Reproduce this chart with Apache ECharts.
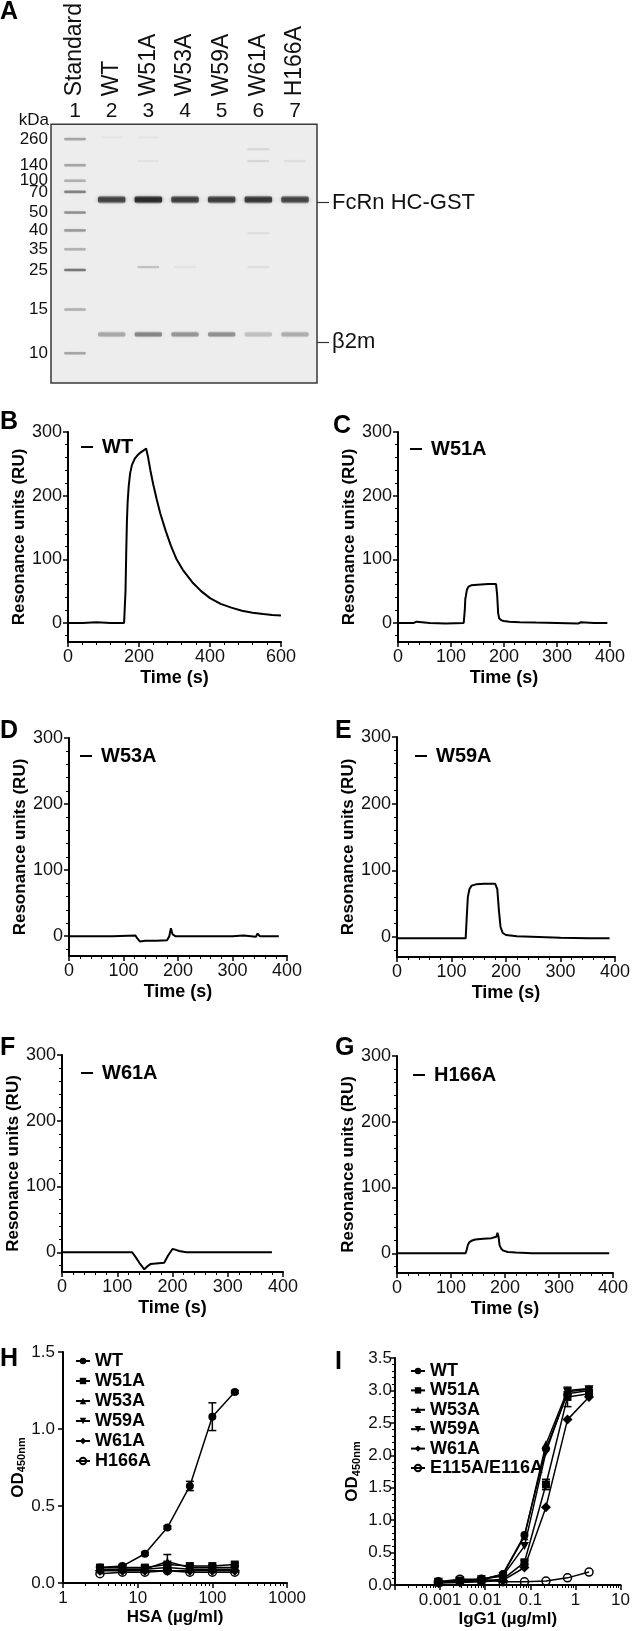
<!DOCTYPE html>
<html><head><meta charset="utf-8">
<script src="https://cdn.jsdelivr.net/npm/echarts@6/dist/echarts.min.js"></script>
<style>html,body{margin:0;padding:0;background:#fff}#c{width:633px;height:1631px}</style>
</head><body><div id="c"></div>
<script>
// ---------- Panel A: gel ----------
const laneNumbers = ['1','2','3','4','5','6','7'];
const laneNames = ['Standard','WT','W51A','W53A','W59A','W61A','H166A'];
const markerKDa = [260,140,100,70,50,40,35,25,15,10];
const markerRf = [0.057,0.158,0.218,0.261,0.341,0.410,0.483,0.563,0.716,0.885];
const markerIntensity = [0.32,0.32,0.28,0.48,0.42,0.38,0.28,0.52,0.28,0.32];
const sampleLanes = [2,3,4,5,6,7];
const heavyRf = 0.291;
const heavyIntensity = [0.75,0.9,0.78,0.78,0.82,0.74];
const b2mRf = 0.812;
const b2mIntensity = [0.3,0.45,0.38,0.4,0.2,0.28];
const faintLane = [2,3,3,3,4,6,6,6,6,7];
const faintRf = [0.05,0.05,0.142,0.552,0.552,0.096,0.142,0.421,0.552,0.142];
const faintIntensity = [0.04,0.04,0.05,0.2,0.05,0.1,0.1,0.08,0.07,0.07];
const productNames = ['FcRn HC-GST','β2m'];
const productRf = [0.303,0.843];

// ---------- Panels B-G: SPR sensorgrams ----------
const sprNames = ['WT','W51A','W53A','W59A','W61A','H166A'];
const timeWT = [0,40,80,120,158,160,162,164,166,168,171,175,180,188,195,205,213,220,225,232,240,250,260,275,290,305,325,350,375,400,430,460,490,520,550,575,600];
const ruWT   = [0,0,1,0,0,0,50,110,160,190,215,235,248,258,263,268,271,274,262,240,218,194,172,145,121,101,82,64,50,39,30,24,19,16,14,12.5,11.5];
const timeW51A = [0,30,35,60,90,124,126,127,128,130,133,138,150,170,185,187,189,191,195,200,210,230,260,300,340,345,370,395];
const ruW51A   = [0,0,2,0,-1,0,20,38,42,52,57,59,60,61,61,45,15,7,4,3,2,1,0.5,0,-1,1,0,0];
const timeW53A = [0,35,38,42,80,122,125,130,140,160,180,184,187,190,195,220,260,300,320,343,346,350,385];
const ruW53A   = [0,0,3,0,0,1,-3,-8,-7,-7,-6,0,12,3,0,0,0,0,1,-1,4,0,0];
const timeW59A = [0,60,120,126,128,130,133,137,145,160,180,184,187,190,194,200,220,260,300,350,390];
const ruW59A   = [-2,-2,-2,-2,30,60,72,77,79,80,80,72,40,15,6,3,1,0,-1,-2,-2];
const timeW61A = [0,50,100,122,124,127,133,140,149,155,160,170,185,192,200,205,212,225,260,300,340,342,345,380];
const ruW61A   = [0,0,0,0,2,0,-7,-16,-26,-21,-18,-17,-16,-5,5,4,2,0,0,0,0,2,0,0];
const timeH166A = [0,60,127,129,131,134,138,145,160,175,184,186,188,190,193,197,205,220,250,300,350,393];
const ruH166A   = [0,0,0,5,12,17,19,21,22,23,25,31,25,12,7,4,2,1,0,0,0,0];
const sprTimes = [timeWT,timeW51A,timeW53A,timeW59A,timeW61A,timeH166A];
const sprRU = [ruWT,ruW51A,ruW53A,ruW59A,ruW61A,ruH166A];
const sprTimeMax = [600,400,400,400,400,400];
const sprTimeStep = [200,100,100,100,100,100];
const ruMajor = [0,100,200,300];
const ruMinor = [-20,20,40,60,80,120,140,160,180,220,240,260,280];

// ---------- Panel H: HSA ELISA ----------
const hsaConc = [3.125,6.25,12.5,25,50,100,200];
const hNames = ['WT','W51A','W53A','W59A','W61A','H166A'];
const hWT    = [0.10,0.11,0.19,0.36,0.63,1.08,1.24];
const hW51A  = [0.10,0.10,0.10,0.12,0.11,0.11,0.12];
const hW53A  = [0.09,0.09,0.09,0.14,0.10,0.10,0.10];
const hW59A  = [0.08,0.09,0.09,0.10,0.09,0.09,0.09];
const hW61A  = [0.08,0.08,0.08,0.08,0.08,0.08,0.08];
const hH166A = [0.06,0.07,0.07,0.08,0.07,0.07,0.07];
const hErrWT   = [0,0,0.01,0.01,0.03,0.09,0.01];
const hErrW51A = [0,0,0,0.01,0.01,0.01,0.01];
const hErrW53A = [0,0,0,0.045,0,0,0];
const hValues = [hWT,hW51A,hW53A,hW59A,hW61A,hH166A];
const hErrors = [hErrWT,hErrW51A,hErrW53A,[],[],[]];

// ---------- Panel I: IgG1 ELISA ----------
const igConc = [0.000914,0.00274,0.00823,0.0247,0.0741,0.222,0.667,2];
const iNames = ['WT','W51A','W53A','W59A','W61A','E115A/E116A'];
const iWT    = [0.05,0.06,0.08,0.17,0.77,2.10,2.95,3.00];
const iW51A  = [0.04,0.05,0.06,0.09,0.35,1.55,2.90,2.95];
const iW53A  = [0.04,0.06,0.09,0.16,0.75,2.17,3.00,3.03];
const iW59A  = [0.05,0.07,0.09,0.14,0.60,2.05,2.98,3.02];
const iW61A  = [0.03,0.04,0.05,0.07,0.27,1.20,2.55,2.90];
const iE115A = [0.05,0.09,0.09,0.05,0.05,0.06,0.11,0.20];
const iErrW51A = [0,0,0,0,0.03,0.08,0.15,0.05];
const iErrWT   = [0,0,0,0,0,0,0.03,0.05];
const iValues = [iWT,iW51A,iW53A,iW59A,iW61A,iE115A];
const iErrors = [iErrWT,iErrW51A,[],[],[],[]];

// ---------- styling / layout ----------
const FF = "'Liberation Sans', Arial, Helvetica, sans-serif";
const TXT = '#111';
const markerSymbols = ['circle','rect','triangle','path://M0,0L10,0L5,9Z','diamond','circle'];
const sprLayout = [[68,432,213,210],[398,432,212,210],[69,738,218,218],[397,737,220,220],[62,1055,221,217],[397,1056,216,217]];
const sprLegendPos = [[76,432],[405,434],[75,741],[410,741],[76,1058],[408,1060]];

const zip = (a,b) => a.map((x,i)=>[x,b[i]]);

const grids=[], xAxes=[], yAxes=[], series=[], legends=[];

// Gel
grids.push({left:51,top:122,width:266,height:261,show:true,backgroundColor:'#ededed',borderColor:'#3a3a3a',borderWidth:1.5});
const laneVals=[1,2,3,4,5,6,7];
xAxes.push({type:'value',gridIndex:0,position:'top',min:0.345,max:7.6,axisLine:{show:false},axisTick:{show:false},splitLine:{show:false},
  axisLabel:{customValues:laneVals,formatter:v=>laneNumbers[Math.round(v)-1],fontSize:21,color:TXT,fontFamily:FF,margin:3}});
xAxes.push({type:'value',gridIndex:0,position:'top',offset:28,min:0.345,max:7.6,axisLine:{show:false},axisTick:{show:false},splitLine:{show:false},
  axisLabel:{customValues:laneVals,formatter:v=>laneNames[Math.round(v)-1],rotate:90,fontSize:23,color:TXT,fontFamily:FF,margin:0}});
yAxes.push({type:'value',gridIndex:0,position:'left',inverse:true,min:0,max:1,axisLine:{show:false},axisTick:{show:false},splitLine:{show:false},
  axisLabel:{customValues:markerRf,formatter:v=>{const i=markerRf.findIndex(r=>Math.abs(r-v)<1e-6);return i<0?'':String(markerKDa[i]);},fontSize:17,color:TXT,fontFamily:FF,margin:3}});
yAxes.push({type:'value',gridIndex:0,position:'right',inverse:true,min:0,max:1,axisLine:{show:false},splitLine:{show:false},
  axisTick:{show:true,customValues:productRf,length:12,lineStyle:{color:'#333',width:1.2}},
  axisLabel:{customValues:productRf,formatter:v=>{const i=productRf.findIndex(r=>Math.abs(r-v)<1e-6);return i<0?'':productNames[i];},fontSize:22,color:TXT,fontFamily:FF,margin:15}});

const gelData=[];
markerRf.forEach((r,i)=>gelData.push([1,r,markerIntensity[i],0]));
sampleLanes.forEach((l,i)=>gelData.push([l,heavyRf,heavyIntensity[i],1]));
sampleLanes.forEach((l,i)=>gelData.push([l,b2mRf,b2mIntensity[i],2]));
faintLane.forEach((l,i)=>gelData.push([l,faintRf[i],faintIntensity[i],3]));
function renderBand(params, api){
  const lane=api.value(0), rf=api.value(1), a=api.value(2), kind=api.value(3);
  const w=[0.6,0.75,0.75,0.6][kind], t=[0.014,0.032,0.024,0.012][kind];
  const c=api.coord([lane,rf]); const s=api.size([w,t]);
  const W=Math.abs(s[0]), H=Math.abs(s[1]);
  const col=o=>'rgba(30,30,30,'+o+')';
  return {type:'rect',shape:{x:c[0]-W/2,y:c[1]-H/2,width:W,height:H,r:Math.min(H/2,3)},
    style:{fill:{type:'linear',x:0,y:0,x2:0,y2:1,colorStops:[{offset:0,color:col(a*0.2)},{offset:0.3,color:col(a)},{offset:0.7,color:col(a)},{offset:1,color:col(a*0.2)}]},
    shadowBlur:4,shadowColor:col(a*0.6)}};
}
series.push({type:'custom',xAxisIndex:0,yAxisIndex:0,renderItem:renderBand,data:gelData,clip:true,silent:true});

// SPR panels
const axisLineStyle={color:'#000',width:2};
sprNames.forEach((nm,k)=>{
  const L=sprLayout[k];
  const g=grids.length;
  grids.push({left:L[0],top:L[1],width:L[2],height:L[3]});
  const xi=xAxes.length;
  xAxes.push({type:'value',gridIndex:g,position:'bottom',min:0,max:sprTimeMax[k],interval:sprTimeStep[k],
    axisLine:{onZero:false,lineStyle:axisLineStyle},axisTick:{length:5,lineStyle:{width:1.5,color:'#000'}},
    minorTick:{show:true,splitNumber:5,length:3,lineStyle:{color:'#000',width:1}},splitLine:{show:false},
    axisLabel:{fontSize:18,color:TXT,fontFamily:FF,margin:6},
    name:'Time (s)',nameLocation:'middle',nameGap:27,nameTextStyle:{fontSize:18,fontWeight:'bold',color:'#000',fontFamily:FF}});
  const yi=yAxes.length;
  yAxes.push({type:'value',gridIndex:g,position:'left',min:-30,max:300,
    axisLine:{show:true,onZero:false,lineStyle:axisLineStyle},
    axisTick:{show:true,customValues:ruMajor,length:5,lineStyle:{width:1.5,color:'#000'}},
    axisLabel:{customValues:ruMajor,fontSize:18,color:TXT,fontFamily:FF,margin:6},splitLine:{show:false},
    name:'Resonance units (RU)',nameLocation:'middle',nameGap:33,nameTextStyle:{fontSize:17,fontWeight:'bold',color:'#000',fontFamily:FF}});
  yAxes.push({type:'value',gridIndex:g,position:'left',min:-30,max:300,axisLine:{show:false},
    axisTick:{show:true,customValues:ruMinor,length:3,lineStyle:{width:1,color:'#000'}},axisLabel:{show:false},splitLine:{show:false}});
  const sname='S'+k+':'+nm;
  series.push({type:'line',name:sname,xAxisIndex:xi,yAxisIndex:yi,data:zip(sprTimes[k],sprRU[k]),symbol:'none',
    lineStyle:{color:'#000',width:2},itemStyle:{color:'#000'}});
  legends.push({data:[sname],left:sprLegendPos[k][0],top:sprLegendPos[k][1],icon:'rect',itemWidth:12,itemHeight:2,selectedMode:false,
    formatter:n=>n.split(':')[1],itemStyle:{color:'#000'},textStyle:{fontSize:20,fontWeight:'bold',color:'#000',fontFamily:FF,padding:[0,0,0,4]}});
});

function renderErr(params, api){
  const x=api.value(0), y=api.value(1), e=api.value(2);
  const t=api.coord([x,y+e]), b=api.coord([x,y-e]); const h=4;
  const st={stroke:'#000',lineWidth:1.5};
  return {type:'group',children:[
    {type:'line',shape:{x1:t[0],y1:t[1],x2:b[0],y2:b[1]},style:st},
    {type:'line',shape:{x1:t[0]-h,y1:t[1],x2:t[0]+h,y2:t[1]},style:st},
    {type:'line',shape:{x1:b[0]-h,y1:b[1],x2:b[0]+h,y2:b[1]},style:st}]};
}
function minorLog(lo,hi){const out=[];for(let p=lo;p<hi;p++){for(let m=2;m<=9;m++)out.push(+(m*Math.pow(10,p)).toPrecision(3));}return out;}
const odName='{a|OD}{b|450nm}';
const odRich={a:{fontSize:17,fontWeight:'bold',fontFamily:FF,color:'#000'},b:{fontSize:11,fontWeight:'bold',fontFamily:FF,color:'#000',padding:[8,0,0,0]}};

function elisa(prefix, conc, names, values, errors, layout, xcfg, ycfg, legendPos){
  const g=grids.length;
  grids.push({left:layout[0],top:layout[1],width:layout[2],height:layout[3]});
  const xi=xAxes.length;
  xAxes.push({type:'log',logBase:10,gridIndex:g,position:'bottom',min:xcfg.min,max:xcfg.max,
    axisLine:{onZero:false,lineStyle:axisLineStyle},axisTick:{customValues:xcfg.major,length:5,lineStyle:{width:1.5,color:'#000'}},
    axisLabel:{customValues:xcfg.labels,formatter:v=>String(+(+v).toPrecision(3)),fontSize:17,color:TXT,fontFamily:FF,margin:7},splitLine:{show:false},
    name:xcfg.name,nameLocation:'middle',nameGap:26,nameTextStyle:{fontSize:17,fontWeight:'bold',color:'#000',fontFamily:FF}});
  xAxes.push({type:'log',logBase:10,gridIndex:g,position:'bottom',min:xcfg.min,max:xcfg.max,axisLine:{show:false},
    axisTick:{customValues:minorLog(xcfg.lo,xcfg.hi),length:3,lineStyle:{width:1,color:'#000'}},axisLabel:{show:false},splitLine:{show:false}});
  const yi=yAxes.length;
  yAxes.push({type:'value',gridIndex:g,position:'left',min:0,max:ycfg.max,interval:0.5,
    axisLine:{show:true,onZero:false,lineStyle:axisLineStyle},axisTick:{length:5,lineStyle:{width:1.5,color:'#000'}},
    minorTick:{show:ycfg.minor,splitNumber:5,length:3,lineStyle:{width:1,color:'#000'}},splitLine:{show:false},
    axisLabel:{formatter:v=>v.toFixed(1),fontSize:17,color:TXT,fontFamily:FF,margin:ycfg.margin},
    name:odName,nameLocation:'middle',nameGap:ycfg.nameGap,nameTextStyle:{rich:odRich}});
  const lnames=[];
  names.forEach((nm,k)=>{
    const sname=prefix+k+':'+nm; lnames.push(sname);
    const hollow=(k===5);
    series.push({type:'line',name:sname,xAxisIndex:xi,yAxisIndex:yi,data:zip(conc,values[k]),
      symbol:markerSymbols[k],symbolSize:k===3?[9,8]:(k===4?10:8),showAllSymbol:true,
      lineStyle:{color:'#000',width:1.5},
      itemStyle:hollow?{color:'rgba(0,0,0,0)',borderColor:'#000',borderWidth:1.5}:{color:'#000'},z:3+k});
  });
  const errData=[];
  errors.forEach((arr,k)=>arr.forEach((e,i)=>{if(e>0)errData.push([conc[i],values[k][i],e]);}));
  series.push({type:'custom',xAxisIndex:xi,yAxisIndex:yi,renderItem:renderErr,data:errData,z:2,silent:true});
  legends.push({data:lnames,orient:'vertical',left:legendPos[0],top:legendPos[1],itemWidth:14,itemHeight:8,itemGap:ycfg.legendGap,selectedMode:false,
    formatter:n=>n.split(':')[1],textStyle:{fontSize:18,fontWeight:'bold',color:'#000',fontFamily:FF}});
}
elisa('H',hsaConc,hNames,hValues,hErrors,[63,1352,224,231],
  {min:1,max:1000,major:[1,10,100,1000],labels:[1,10,100,1000],lo:0,hi:3,name:'HSA (µg/ml)'},
  {max:1.5,minor:false,margin:8,nameGap:10,legendGap:2},[70,1347]);
elisa('I',igConc,iNames,iValues,iErrors,[395,1358,228,227],
  {min:0.0001,max:10,major:[0.0001,0.001,0.01,0.1,1,10],labels:[0.001,0.01,0.1,1,10],lo:-4,hi:1,name:'IgG1 (µg/ml)'},
  {max:3.5,minor:true,margin:3,nameGap:33,legendGap:1.4},[405,1357]);

// panel letters and gel unit label
const letters=[['A',0,12],['B',0,422],['C',333,426],['D',0,731],['E',335,731],['F',0,1048],['G',335,1048],['H',0,1359],['I',335,1362]];
const graphic=letters.map(l=>({type:'text',x:l[1],y:l[2],style:{text:l[0],fontSize:25,fontWeight:'bold',fontFamily:FF,fill:'#000',verticalAlign:'middle',align:'left'}}));
graphic.push({type:'text',x:49,y:120,style:{text:'kDa',fontSize:17,fontFamily:FF,fill:TXT,verticalAlign:'middle',align:'right'}});

const chart=echarts.init(document.getElementById('c'),null,{renderer:'canvas'});
chart.setOption({animation:false,backgroundColor:'#fff',grid:grids,xAxis:xAxes,yAxis:yAxes,series:series,legend:legends,graphic:graphic});
</script></body></html>
